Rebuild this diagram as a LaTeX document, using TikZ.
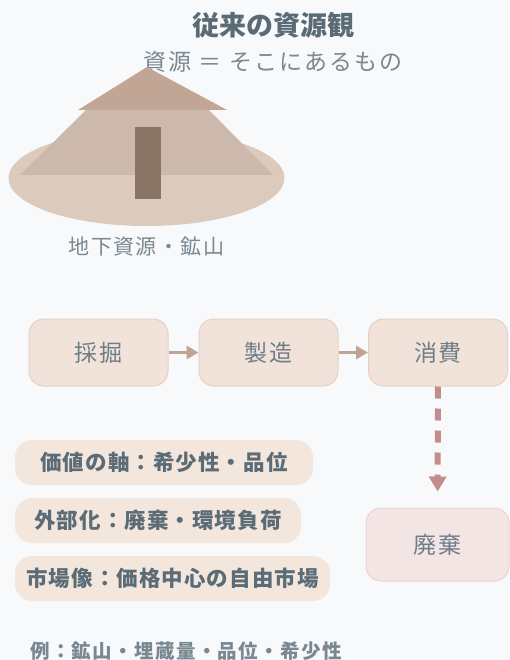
\documentclass[tikz,border=0pt]{standalone}
\usepackage{fontspec}
\setmainfont{Noto Sans CJK JP}
\usetikzlibrary{arrows.meta}

\definecolor{bg}{HTML}{F8F9FB}
\definecolor{titletext}{HTML}{5A6B76}
\definecolor{subtext}{HTML}{7A8892}
\definecolor{boxfill}{HTML}{F1E3DA}
\definecolor{boxline}{HTML}{E4D1C5}
\definecolor{boxtext}{HTML}{6E7D87}
\definecolor{wastefill}{HTML}{F4E5E5}
\definecolor{wasteline}{HTML}{EAD3D3}
\definecolor{flowarrow}{HTML}{BFA394}
\definecolor{dropline}{HTML}{C48D8D}
\definecolor{pillfill}{HTML}{F3E6DD}
\definecolor{pilltext}{HTML}{5C6C76}
\definecolor{hillbase}{HTML}{DCCABD}
\definecolor{hillbody}{HTML}{CDB9AB}
\definecolor{hilltop}{HTML}{C1A696}
\definecolor{shaft}{HTML}{8A7466}

\begin{document}
\begin{tikzpicture}[x=1pt,y=-1pt,
  flowbox/.style={draw=boxline, fill=boxfill, line width=1pt, rounded corners=15pt,
    minimum width=139pt, minimum height=67pt, text=boxtext,
    font=\fontsize{23}{28}\selectfont\addfontfeatures{LetterSpace=6}},
  pill/.style={fill=pillfill, rounded corners=17pt, minimum height=45pt, text=pilltext,
    font=\bfseries\fontsize{21.5}{26}\selectfont\addfontfeatures{LetterSpace=5}},
  flow/.style={-{Triangle[width=13pt,length=12pt]}, line width=3pt, draw=flowarrow},
  drop/.style={-{Triangle[width=17pt,length=15pt]}, line width=6pt, draw=dropline,
    dash pattern=on 12pt off 10pt, shorten >=16pt},
]
\fill[bg] (0,0) rectangle (509,660);
\useasboundingbox (0,0) rectangle (509,660);

\node[font=\bfseries\fontsize{27}{32}\selectfont, text=titletext] (title) at (273,25) {従来の資源観};
\node[font=\fontsize{23}{28}\selectfont\addfontfeatures{LetterSpace=9}, text=subtext] (motto) at (273,62) {資源 ＝ そこにあるもの};

% mountain with shaft
\fill[hillbase] (146.5,178) ellipse [x radius=138, y radius=48];
\fill[hillbody] (20,175) -- (273,175) -- (209,110) -- (86,110) -- cycle;
\fill[hilltop] (147,67) -- (227,110) -- (78,110) -- cycle;
\fill[shaft] (135,127) rectangle (161,199);
\node[font=\fontsize{21}{26}\selectfont\addfontfeatures{LetterSpace=7}, text=subtext] (mine) at (146.5,247) {地下資源・鉱山};

% linear flow
\node[flowbox] (dig) at (98.5,352.5) {採掘};
\node[flowbox] (make) at (268.5,352.5) {製造};
\node[flowbox] (use) at (438,352.5) {消費};
\node[flowbox, fill=wastefill, draw=wasteline, minimum width=143pt, minimum height=73pt] (waste) at (437.5,544.5) {廃棄};

\draw[flow] (dig) -- (make);
\draw[flow] (make) -- (use);
\draw[drop] (use) -- (waste);

% value notes
\node[pill, minimum width=298pt] (axis) at (164,462.5) {価値の軸：希少性・品位};
\node[pill, minimum width=286pt] (extern) at (158,520.5) {外部化：廃棄・環境負荷};
\node[pill, minimum width=315pt] (market) at (172.5,578.5) {市場像：価格中心の自由市場};

\node[font=\bfseries\fontsize{19.5}{24}\selectfont\addfontfeatures{LetterSpace=7}, text=subtext] (example) at (186,651) {例：鉱山・埋蔵量・品位・希少性};
\end{tikzpicture}
\end{document}
